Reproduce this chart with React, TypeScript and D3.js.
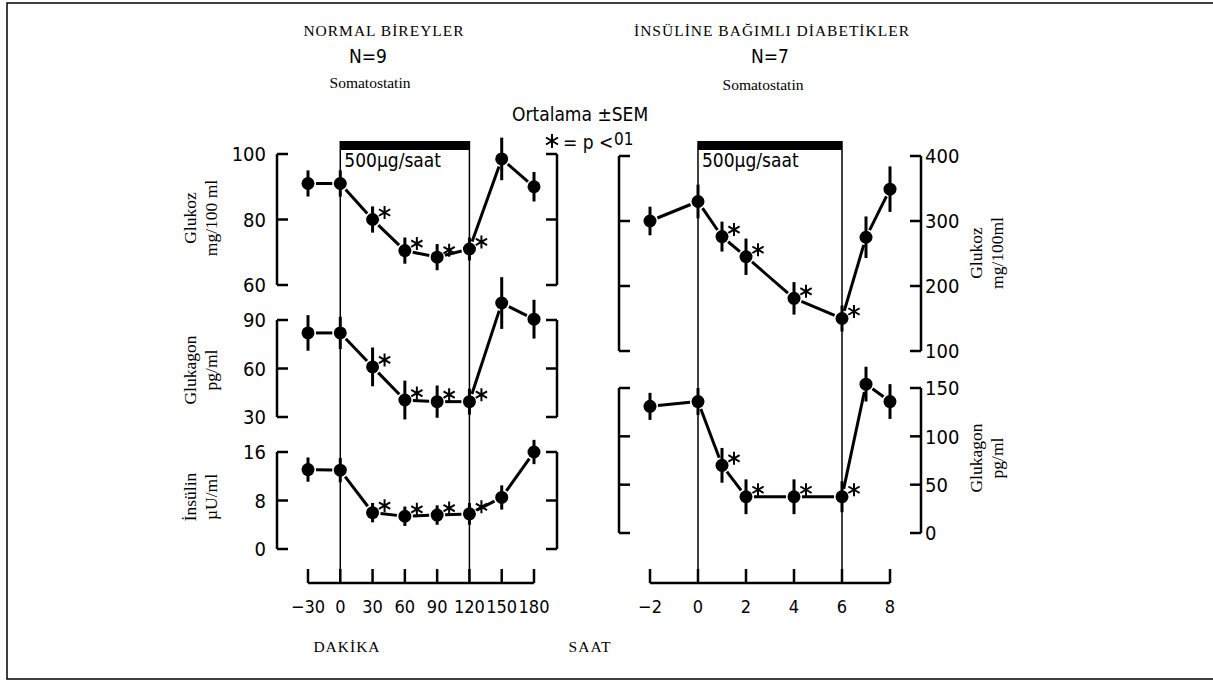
import React from "react";
import * as d3 from "d3";

// data
const minutes = [-30, 0, 30, 60, 90, 120, 150, 180];
const hours = [-2, 0, 1, 2, 4, 6, 7, 8];

const normGlukoz = [91, 91, 80, 70.5, 68.5, 71, 98.5, 90];
const normGlukozSem = [4, 4, 4, 4, 4, 3.5, 6.5, 4.5];
const normGlukagon = [82, 82, 61, 40.5, 39.5, 39.5, 100.5, 90.5];
const normGlukagonSem = [11, 10, 12, 12, 10, 8, 16, 12];
const normInsulin = [13.1, 13, 6, 5.4, 5.6, 5.8, 8.5, 16];
const normInsulinSem = [2, 2, 1.6, 1.6, 1.6, 1.8, 2, 2];
const normSig = [false, false, true, true, true, true, false, false];

const diabGlukoz = [300, 330, 276, 245, 181, 150, 275, 349];
const diabGlukozSem = [22, 26, 23, 28, 25, 20, 32, 35];
const diabGlukagon = [131, 136, 70, 37.5, 37.5, 37.5, 154, 136];
const diabGlukagonSem = [14, 14, 18, 18, 18, 16, 18, 18];
const diabSig = [false, false, true, true, true, true, false, false];

const minuteTicks = [-30, 0, 30, 60, 90, 120, 150, 180];
const hourTicks = [-2, 0, 2, 4, 6, 8];
const glukozLTicks = [60, 80, 100];
const glukagonLTicks = [30, 60, 90];
const insulinLTicks = [0, 8, 16];
const glukozRTicks = [100, 200, 300, 400];
const glukagonRTicks = [0, 50, 100, 150];

const serif = "'Liberation Serif', 'DejaVu Serif', serif";
const narrow = "'DejaVu Sans Condensed', 'Liberation Sans Narrow', 'DejaVu Sans', sans-serif";

const xL = d3.scaleLinear().domain([-30, 180]).range([308, 534]);
const xR = d3.scaleLinear().domain([-2, 8]).range([650, 890]);
const yGlukL = d3.scaleLinear().domain([60, 100]).range([285, 154]);
const yGlukagL = d3.scaleLinear().domain([30, 90]).range([417, 320]);
const yInsL = d3.scaleLinear().domain([0, 16]).range([549, 452]);
const yGlukR = d3.scaleLinear().domain([100, 400]).range([351, 156]);
const yGlukagR = d3.scaleLinear().domain([0, 150]).range([533, 388]);

const starPath = (cx, cy, r) => {
  let d = "";
  for (let k = 0; k < 3; k++) {
    const a = (Math.PI / 3) * k + Math.PI / 2;
    const dx = Math.cos(a) * r, dy = Math.sin(a) * r;
    d += `M${cx - dx},${cy - dy}L${cx + dx},${cy + dy}`;
  }
  return d;
};

function Series({ xs, ys, sem, sig, x, y }) {
  const pts = xs.map((t, i) => [x(t), y(ys[i])]);
  const gap = 8;
  return (
    <g>
      {pts.slice(1).map((p, i) => {
        const q = pts[i];
        const len = Math.hypot(p[0] - q[0], p[1] - q[1]);
        const ux = (p[0] - q[0]) / len, uy = (p[1] - q[1]) / len;
        return (
          <line key={"s" + i} x1={q[0] + ux * gap} y1={q[1] + uy * gap}
            x2={p[0] - ux * gap} y2={p[1] - uy * gap} stroke="#000" strokeWidth={3} />
        );
      })}
      {pts.map((p, i) => (
        <line key={"e" + i} x1={p[0]} x2={p[0]} y1={y(ys[i] + sem[i])} y2={y(ys[i] - sem[i])}
          stroke="#000" strokeWidth={3} />
      ))}
      {pts.map((p, i) => (
        <circle key={"c" + i} cx={p[0]} cy={p[1]} r={6.5} fill="#000" />
      ))}
      {pts.map((p, i) => sig[i] ? (
        <path key={"a" + i} d={starPath(p[0] + 12, p[1] - 7, 6.5)} stroke="#000" strokeWidth={2} />
      ) : null)}
    </g>
  );
}

function YBracket({ x, y, ticks, dir, labels, labelSide }) {
  const [lo, hi] = d3.extent(ticks);
  return (
    <g>
      <line x1={x} x2={x} y1={y(lo)} y2={y(hi)} stroke="#000" strokeWidth={2.5} />
      {ticks.map((t) => (
        <line key={t} x1={x} x2={x + dir * 11} y1={y(t)} y2={y(t)} stroke="#000" strokeWidth={2.5} />
      ))}
      {labels && ticks.map((t) => (
        <text key={"l" + t} x={labelSide < 0 ? x - 11 : x + 4} y={y(t)} dy="0.36em"
          textAnchor={labelSide < 0 ? "end" : "start"} fontFamily={narrow} fontStretch="condensed"
          fontSize={20} fontWeight={300}>
          {t}
        </text>
      ))}
    </g>
  );
}

function XAxis({ x, ticks }) {
  const base = 583;
  return (
    <g>
      <line x1={x(ticks[0])} x2={x(ticks[ticks.length - 1])} y1={base} y2={base} stroke="#000" strokeWidth={2.5} />
      {ticks.map((t) => (
        <line key={t} x1={x(t)} x2={x(t)} y1={base} y2={base - 14} stroke="#000" strokeWidth={2.5} />
      ))}
      {ticks.map((t) => (
        <text key={"l" + t} x={x(t)} y={613} textAnchor="middle" fontFamily={narrow} fontStretch="condensed"
          fontSize={18} fontWeight={300}>
          {t < 0 ? "\u2212" + Math.abs(t) : t}
        </text>
      ))}
    </g>
  );
}

function RotLabel({ x, y, lines }) {
  return (
    <g fontFamily={serif} fontSize={17.5}>
      {lines.map((s, i) => (
        <text key={i} transform={`translate(${x + i * 21},${y}) rotate(-90)`} textAnchor="middle">{s}</text>
      ))}
    </g>
  );
}

export default function App() {
  return (
    <svg width={1213} height={682} style={{ position: "absolute", left: 0, top: 0, background: "#fff" }}>
      {/* frame */}
      <path d="M1213,3H7V679H1213" fill="none" stroke="#000" strokeWidth={1.5} />

      {/* titles */}
      <text x={384} y={36} textAnchor="middle" fontFamily={serif} fontSize={15.5} letterSpacing={1}>NORMAL BİREYLER</text>
      <text x={772} y={36} textAnchor="middle" fontFamily={serif} fontSize={15.5} letterSpacing={1}>İNSÜLİNE BAĞIMLI DİABETİKLER</text>
      <g fontFamily={narrow} fontStretch="condensed" fontSize={19} fontWeight={300}>
        <text x={368} y={63} textAnchor="middle">N=9</text>
        <text x={770} y={63} textAnchor="middle">N=7</text>
        <text x={512} y={121}>Ortalama ±SEM</text>
        <path d={starPath(552, 141, 7)} stroke="#000" strokeWidth={2} />
        <text x={563} y={149}>= p &lt;</text>
        <text x={614} y={145} fontSize={17}>01</text>
      </g>
      <text x={370} y={88} textAnchor="middle" fontFamily={serif} fontSize={15.5}>Somatostatin</text>
      <text x={763} y={90} textAnchor="middle" fontFamily={serif} fontSize={15.5}>Somatostatin</text>

      {/* infusion bars + vertical reference lines */}
      {[[xL, 0, 120], [xR, 0, 6]].map(([x, a, b], i) => (
        <g key={i}>
          <rect x={x(a)} y={141} width={x(b) - x(a)} height={9} fill="#000" />
          <line x1={x(a)} x2={x(a)} y1={141} y2={583} stroke="#000" strokeWidth={1.5} />
          <line x1={x(b)} x2={x(b)} y1={141} y2={583} stroke="#000" strokeWidth={1.5} />
          <text x={x(a) + 4} y={167} fontFamily={narrow} fontStretch="condensed" fontSize={19} fontWeight={300}>500µg/saat</text>
        </g>
      ))}

      {/* left panel axes */}
      <YBracket x={277} y={yGlukL} ticks={glukozLTicks} dir={1} labels labelSide={-1} />
      <YBracket x={277} y={yGlukagL} ticks={glukagonLTicks} dir={1} labels labelSide={-1} />
      <YBracket x={277} y={yInsL} ticks={insulinLTicks} dir={1} labels labelSide={-1} />
      <YBracket x={557} y={yGlukL} ticks={glukozLTicks} dir={-1} />
      <YBracket x={557} y={yGlukagL} ticks={glukagonLTicks} dir={-1} />
      <YBracket x={557} y={yInsL} ticks={insulinLTicks} dir={-1} />
      <XAxis x={xL} ticks={minuteTicks} />

      {/* right panel axes */}
      <YBracket x={619} y={yGlukR} ticks={glukozRTicks} dir={1} />
      <YBracket x={619} y={yGlukagR} ticks={glukagonRTicks} dir={1} />
      <YBracket x={921} y={yGlukR} ticks={glukozRTicks} dir={-1} labels labelSide={1} />
      <YBracket x={921} y={yGlukagR} ticks={glukagonRTicks} dir={-1} labels labelSide={1} />
      <XAxis x={xR} ticks={hourTicks} />

      {/* series */}
      <Series xs={minutes} ys={normGlukoz} sem={normGlukozSem} sig={normSig} x={xL} y={yGlukL} />
      <Series xs={minutes} ys={normGlukagon} sem={normGlukagonSem} sig={normSig} x={xL} y={yGlukagL} />
      <Series xs={minutes} ys={normInsulin} sem={normInsulinSem} sig={normSig} x={xL} y={yInsL} />
      <Series xs={hours} ys={diabGlukoz} sem={diabGlukozSem} sig={diabSig} x={xR} y={yGlukR} />
      <Series xs={hours} ys={diabGlukagon} sem={diabGlukagonSem} sig={diabSig} x={xR} y={yGlukagR} />

      {/* axis titles */}
      <RotLabel x={196} y={218} lines={["Glukoz", "mg/100 ml"]} />
      <RotLabel x={196} y={370} lines={["Glukagon", "pg/ml"]} />
      <RotLabel x={196} y={497} lines={["İnsülin", "µU/ml"]} />
      <RotLabel x={982} y={253} lines={["Glukoz", "mg/100ml"]} />
      <RotLabel x={982} y={458} lines={["Glukagon", "pg/ml"]} />

      <text x={347} y={652} textAnchor="middle" fontFamily={serif} fontSize={15.5} letterSpacing={1}>DAKİKA</text>
      <text x={590} y={652} textAnchor="middle" fontFamily={serif} fontSize={15.5} letterSpacing={1}>SAAT</text>
    </svg>
  );
}
